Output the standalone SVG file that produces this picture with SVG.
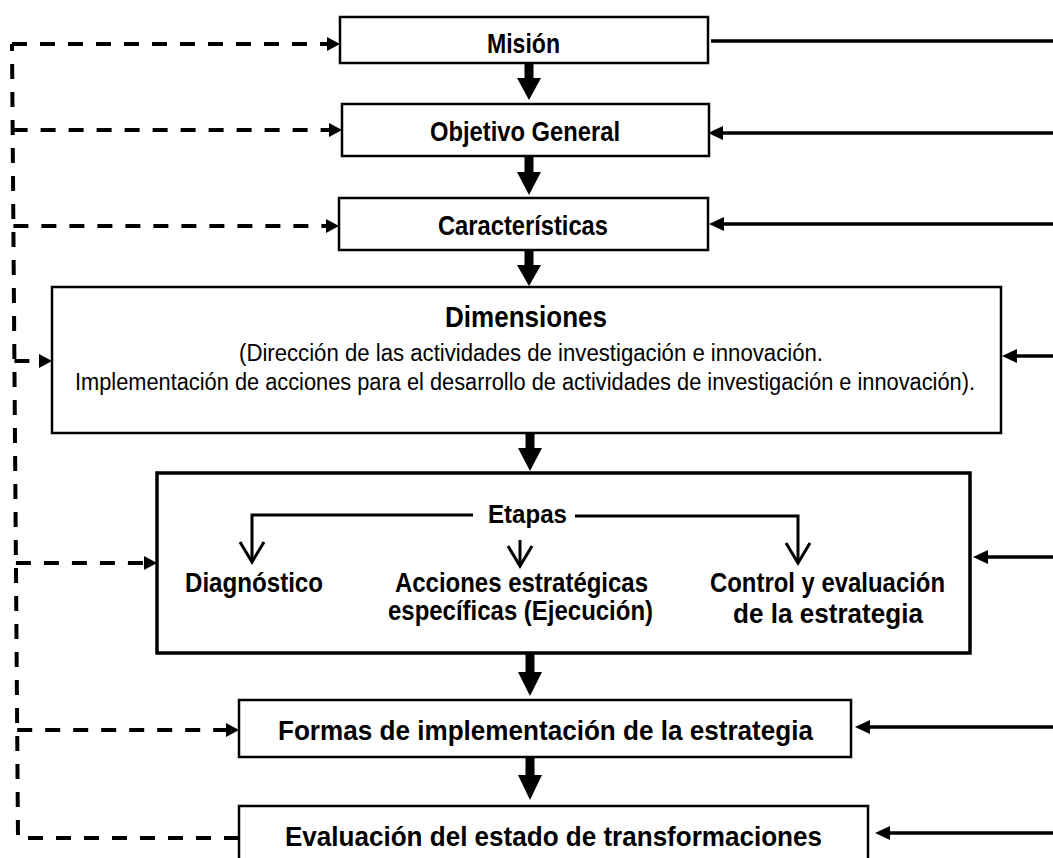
<svg xmlns="http://www.w3.org/2000/svg" width="1053" height="858" viewBox="0 0 1053 858">
<style>
.box{fill:#fff;stroke:#000;stroke-width:2.5}
.boxb{fill:#fff;stroke:#000;stroke-width:3.5}
.b{font-family:"Liberation Sans",Arial,sans-serif;font-weight:bold;fill:#000}
.r{font-family:"Liberation Sans",Arial,sans-serif;fill:#000}
.thick{fill:#000;stroke:none}
.dash{fill:none;stroke:#000;stroke-width:4;stroke-dasharray:15 13}
.solid{fill:none;stroke:#000;stroke-width:3.5}
.inner{fill:none;stroke:#000;stroke-width:3}
</style>
<defs>
<marker id="dh" markerUnits="userSpaceOnUse" markerWidth="14" markerHeight="16" viewBox="0 -8 14 16" refX="0" refY="0" orient="auto" overflow="visible">
<path d="M0,-7 L13,0 L0,7 Z" fill="#000"/>
</marker>
<marker id="sh" markerUnits="userSpaceOnUse" markerWidth="16" markerHeight="16" viewBox="0 -8 16 16" refX="0" refY="0" orient="auto" overflow="visible">
<path d="M0,-7 L15,0 L0,7 Z" fill="#000"/>
</marker>
<marker id="ov" markerUnits="userSpaceOnUse" markerWidth="24" markerHeight="28" viewBox="-22 -14 24 28" refX="0" refY="0" orient="auto" overflow="visible">
<path d="M-20,-12 L0,0 L-20,12" fill="none" stroke="#000" stroke-width="3"/>
</marker>
</defs>

<g id="mision">
<rect class="box" x="340" y="17" width="368" height="46"/>
<text class="b" x="487" y="53" font-size="28" textLength="73" lengthAdjust="spacingAndGlyphs">Misión</text>
</g>
<g id="objetivo">
<rect class="box" x="342" y="104" width="367" height="52"/>
<text class="b" x="430" y="141" font-size="28" textLength="190" lengthAdjust="spacingAndGlyphs">Objetivo General</text>
</g>
<g id="caracteristicas">
<rect class="box" x="339" y="198" width="369" height="52"/>
<text class="b" x="438" y="235" font-size="28" textLength="170" lengthAdjust="spacingAndGlyphs">Características</text>
</g>
<g id="dimensiones">
<rect class="box" x="52" y="287" width="949" height="146"/>
<text class="b" x="445" y="327" font-size="30" textLength="162" lengthAdjust="spacingAndGlyphs">Dimensiones</text>
<text class="r" x="239" y="361" font-size="23" textLength="584" lengthAdjust="spacingAndGlyphs">(Dirección de las actividades de investigación e innovación.</text>
<text class="r" x="75" y="390" font-size="23" textLength="900" lengthAdjust="spacingAndGlyphs">Implementación de acciones para el desarrollo de actividades de investigación e innovación).</text>
</g>
<g id="etapas">
<rect class="boxb" x="157" y="473" width="813" height="180"/>
<text class="b" x="488" y="523" font-size="26" textLength="79" lengthAdjust="spacingAndGlyphs">Etapas</text>
<text class="b" x="185" y="592" font-size="27" textLength="138" lengthAdjust="spacingAndGlyphs">Diagnóstico</text>
<text class="b" x="395" y="592" font-size="27" textLength="253" lengthAdjust="spacingAndGlyphs">Acciones estratégicas</text>
<text class="b" x="388" y="620" font-size="27" textLength="265" lengthAdjust="spacingAndGlyphs">específicas (Ejecución)</text>
<text class="b" x="710" y="592" font-size="27" textLength="235" lengthAdjust="spacingAndGlyphs">Control y evaluación</text>
<text class="b" x="733" y="623" font-size="28" textLength="190" lengthAdjust="spacingAndGlyphs">de la estrategia</text>
</g>
<g id="formas">
<rect class="box" x="239" y="700" width="612" height="57"/>
<text class="b" x="278" y="740" font-size="28" textLength="535" lengthAdjust="spacingAndGlyphs">Formas de implementación de la estrategia</text>
</g>
<g id="evaluacion">
<rect class="box" x="239" y="806" width="629" height="70"/>
<text class="b" x="285" y="846" font-size="28" textLength="537" lengthAdjust="spacingAndGlyphs">Evaluación del estado de transformaciones</text>
</g>

<g id="connectors">
<path class="thick" d="M524.5,63 H533.5 V78 H541 L529,100 L517,78 H524.5 Z"/>
<path class="thick" d="M524.5,156 H533.5 V172 H541 L529,195 L517,172 H524.5 Z"/>
<path class="thick" d="M524.5,250 H533.5 V265 H541 L529,286 L517,265 H524.5 Z"/>
<path class="thick" d="M525.5,433 H534.5 V448 H542 L530,471 L518,448 H525.5 Z"/>
<path class="thick" d="M525.5,653 H534.5 V672 H542 L530,696 L518,672 H525.5 Z"/>
<path class="thick" d="M525.5,757 H534.5 V775 H542 L530,800 L518,775 H525.5 Z"/>

<path class="dash" d="M239,838 H18 L12,44"/>
<path class="dash" d="M12,44 H327" marker-end="url(#dh)"/>
<path class="dash" d="M12.6,130 H329" marker-end="url(#dh)"/>
<path class="dash" d="M13.4,226 H326" marker-end="url(#dh)"/>
<path class="dash" d="M14.4,361 H39" marker-end="url(#dh)"/>
<path class="dash" d="M15.9,563 H144" marker-end="url(#dh)"/>
<path class="dash" d="M17.2,730 H226" marker-end="url(#dh)"/>

<path class="solid" d="M711,41 H1053"/>
<path class="solid" d="M1053,133 H723" marker-end="url(#sh)"/>
<path class="solid" d="M1053,224 H724" marker-end="url(#sh)"/>
<path class="solid" d="M1053,356 H1017" marker-end="url(#sh)"/>
<path class="solid" d="M1053,557 H988" marker-end="url(#sh)"/>
<path class="solid" d="M1053,727 H870" marker-end="url(#sh)"/>
<path class="solid" d="M1053,833 H890" marker-end="url(#sh)"/>

<path class="inner" d="M473,515 H252 V562" marker-end="url(#ov)"/>
<path class="inner" d="M520,540 V566" marker-end="url(#ov)"/>
<path class="inner" d="M575,516 H798 V563" marker-end="url(#ov)"/>
</g>
</svg>
